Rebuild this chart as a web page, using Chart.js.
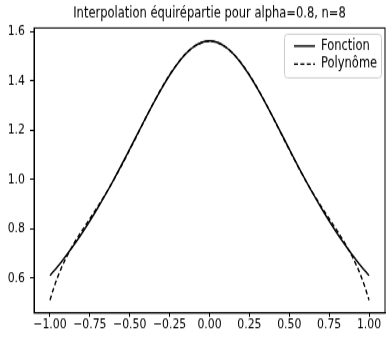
<!DOCTYPE html>
<html lang="fr">
<head>
<meta charset="UTF-8">
<title>Interpolation équirépartie</title>
<script src="https://cdn.jsdelivr.net/npm/chart.js"></script>
<style>
    html, body { margin: 0; padding: 0; background: #fff; }
    #frame { width: 390px; height: 337px; overflow: hidden; }
    /* the original figure is stretched vertically, so draw at 390x270 and stretch */
    #wrap { width: 390px; height: 270px; transform: scaleY(1.2481); transform-origin: 0 0; }
</style>
</head>
<body>
<div id="frame"><div id="wrap"><canvas id="chart" width="390" height="270"></canvas></div></div>
<script>
// values
const xVals = [-1, -0.975, -0.95, -0.925, -0.9, -0.85, -0.8, -0.75, -0.7, -0.65, -0.6, -0.55, -0.5, -0.45, -0.4, -0.35, -0.3, -0.25, -0.2, -0.15, -0.1, -0.05,
    0, 0.05, 0.1, 0.15, 0.2, 0.25, 0.3, 0.35, 0.4, 0.45, 0.5, 0.55, 0.6, 0.65, 0.7, 0.75, 0.8, 0.85, 0.9, 0.925, 0.95, 0.975, 1];
const fonction = [0.6098, 0.6287, 0.6483, 0.6686, 0.6897, 0.7339, 0.7813, 0.8316, 0.8850, 0.9412, 1.0, 1.0610, 1.1236, 1.1869, 1.25, 1.3115, 1.3699, 1.4235, 1.4706, 1.5094, 1.5385, 1.5564,
    1.5625, 1.5564, 1.5385, 1.5094, 1.4706, 1.4235, 1.3699, 1.3115, 1.25, 1.1869, 1.1236, 1.0610, 1.0, 0.9412, 0.8850, 0.8316, 0.7813, 0.7339, 0.6897, 0.6686, 0.6483, 0.6287, 0.6098];
const polynome = [0.5104, 0.5622, 0.6069, 0.6459, 0.6805, 0.7397, 0.7916, 0.8406, 0.8904, 0.9428, 0.9987, 1.0583, 1.1208, 1.1849, 1.2493, 1.3121, 1.3713, 1.4251, 1.4718, 1.5099, 1.5381, 1.5553,
    1.5611, 1.5553, 1.5381, 1.5099, 1.4718, 1.4251, 1.3713, 1.3121, 1.2493, 1.1849, 1.1208, 1.0583, 0.9987, 0.9428, 0.8904, 0.8406, 0.7916, 0.7397, 0.6805, 0.6459, 0.6069, 0.5622, 0.5104];
const xTicks = [-1, -0.75, -0.5, -0.25, 0, 0.25, 0.5, 0.75, 1];
const yTicks = [0.6, 0.8, 1.0, 1.2, 1.4, 1.6];

const FONT = 'DejaVu Sans';

function pts(ys) {
    return xVals.map((x, i) => ({ x: x, y: ys[i] }));
}

// top/right spines + matplotlib style legend in the upper right corner
const frameAndLegend = {
    id: 'frameAndLegend',
    afterDraw(chart) {
        const ctx = chart.ctx;
        const a = chart.chartArea;
        ctx.save();
        ctx.strokeStyle = '#000';
        ctx.lineWidth = 1;
        ctx.strokeRect(a.left, a.top, a.right - a.left, a.bottom - a.top);

        const bw = 97, bh = 35;
        const bx = a.right - bw - 4, by = a.top + 5;
        ctx.fillStyle = 'rgba(255,255,255,0.8)';
        ctx.strokeStyle = '#ccc';
        ctx.beginPath();
        ctx.roundRect(bx + 0.5, by, bw, bh, 3);
        ctx.fill();
        ctx.stroke();

        const items = [
            { label: 'Fonction', dash: [] },
            { label: 'Polynôme', dash: [4, 2.4] }
        ];
        ctx.font = '11.5px "' + FONT + '"';
        ctx.textBaseline = 'middle';
        items.forEach((it, i) => {
            const y = by + 9.5 + i * 14.5;
            ctx.strokeStyle = '#000';
            ctx.lineWidth = 1.4;
            ctx.setLineDash(it.dash);
            ctx.beginPath();
            ctx.moveTo(bx + 10, y);
            ctx.lineTo(bx + 31, y);
            ctx.stroke();
            ctx.setLineDash([]);
            ctx.fillStyle = '#000';
            ctx.fillText(it.label, bx + 37, y);
        });
        ctx.restore();
    }
};

new Chart(document.getElementById('chart'), {
    type: 'line',
    data: {
        datasets: [
            {
                label: 'Fonction',
                data: pts(fonction),
                borderColor: '#000',
                borderWidth: 1.4,
                pointRadius: 0,
                cubicInterpolationMode: 'monotone',
                fill: false
            },
            {
                label: 'Polynôme',
                data: pts(polynome),
                borderColor: '#000',
                borderWidth: 1.4,
                borderDash: [4, 2.4],
                pointRadius: 0,
                cubicInterpolationMode: 'monotone',
                fill: false
            }
        ]
    },
    options: {
        responsive: false,
        animation: false,
        devicePixelRatio: 1,
        layout: { padding: { left: 0, right: 5, top: 0, bottom: 0 } },
        plugins: {
            legend: { display: false },
            tooltip: { enabled: false },
            title: {
                display: true,
                fullSize: false,
                text: 'Interpolation équirépartie pour alpha=0.8, n=8',
                color: '#000',
                font: { family: FONT, size: 11.5, weight: 'normal' },
                padding: { top: 4, bottom: 4.6 }
            }
        },
        scales: {
            x: {
                type: 'linear',
                min: -1.1,
                max: 1.1,
                afterBuildTicks: s => { s.ticks = xTicks.map(v => ({ value: v })); },
                afterFit: s => { s.height = 19.2; },
                ticks: {
                    color: '#000',
                    font: { family: FONT, size: 10.9 },
                    padding: 0,
                    maxRotation: 0,
                    autoSkip: false,
                    callback: v => (v < 0 ? '\u2212' : '') + Math.abs(v).toFixed(2)
                },
                grid: { drawOnChartArea: false, drawTicks: true, tickLength: 3, color: '#000' },
                border: { display: true, color: '#000' }
            },
            y: {
                type: 'linear',
                min: 0.4578,
                max: 1.6151,
                afterBuildTicks: s => { s.ticks = yTicks.map(v => ({ value: v })); },
                afterFit: s => { s.width = 34; },
                ticks: {
                    color: '#000',
                    font: { family: FONT, size: 10.9 },
                    padding: 5,
                    autoSkip: false,
                    callback: v => v.toFixed(1)
                },
                grid: { drawOnChartArea: false, drawTicks: true, tickLength: 4, color: '#000' },
                border: { display: true, color: '#000' }
            }
        }
    },
    plugins: [frameAndLegend]
});
</script>
</body>
</html>
